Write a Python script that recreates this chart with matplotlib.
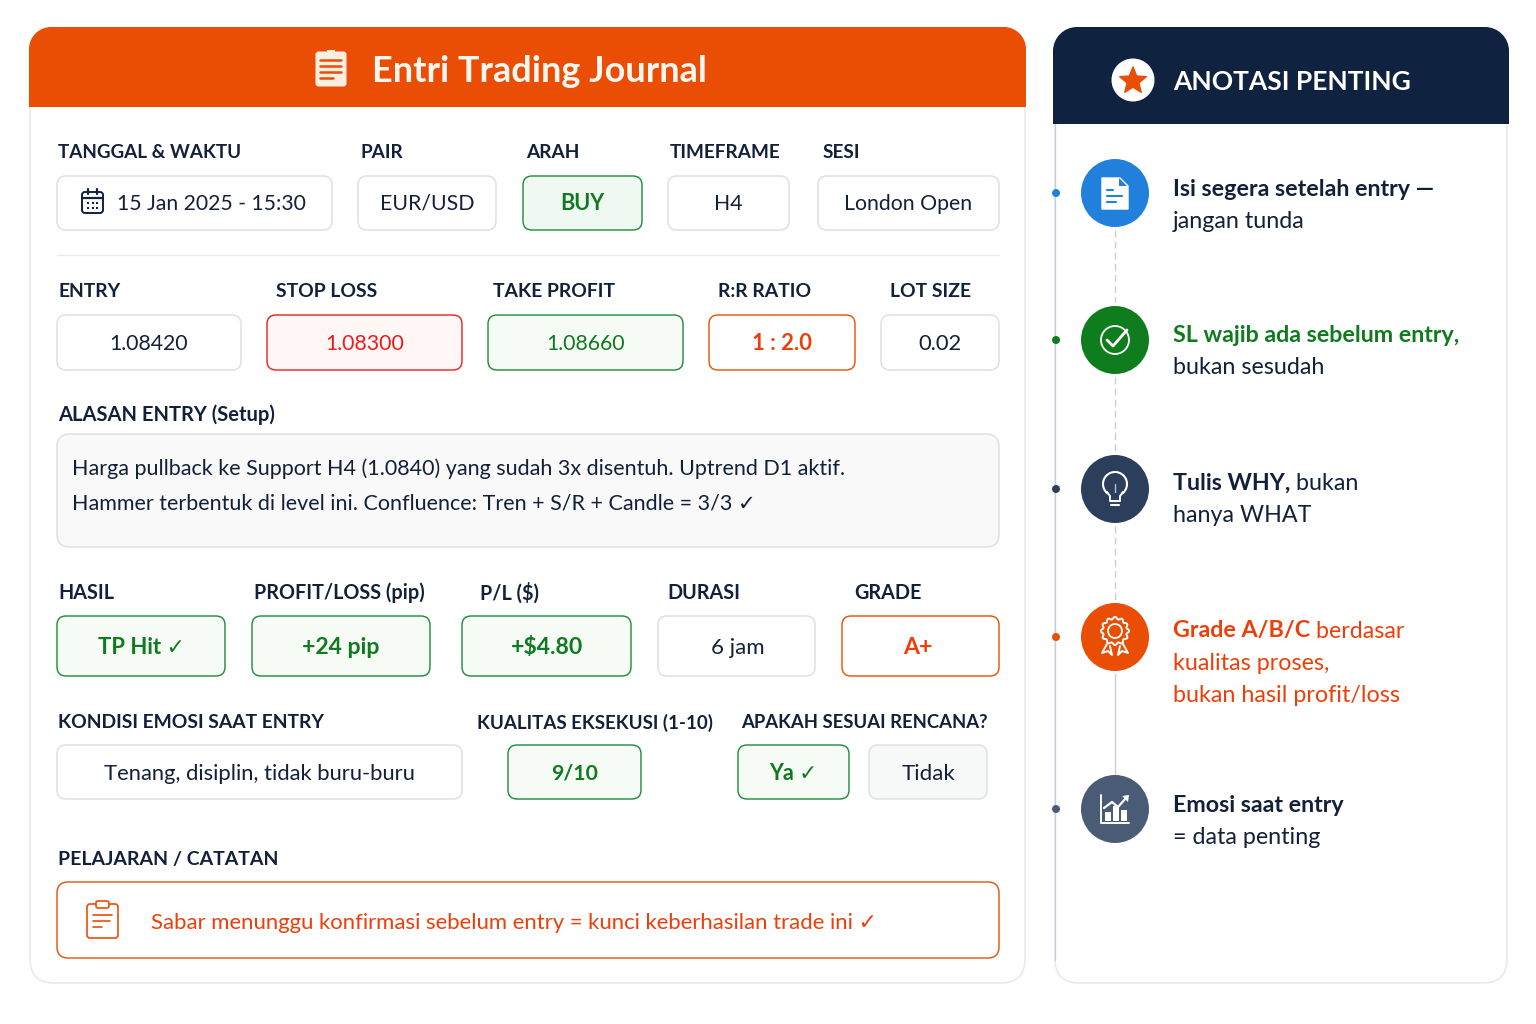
"""Trading journal entry card with an annotation sidebar, drawn in pixel coordinates."""
import matplotlib
matplotlib.use("Agg")
import matplotlib.pyplot as plt
from matplotlib.patches import Circle, FancyBboxPatch, PathPatch, Polygon, Rectangle
from matplotlib.path import Path
import numpy as np

plt.rcParams["font.family"] = ["Lato", "DejaVu Sans"]

ORANGE = "#e94e04"
ORANGE_TXT = "#ee3f0a"
NAVY = "#0f2240"
INK = "#12203a"
GREEN = "#0f7a1e"
GREEN_EDGE = "#1c8a3a"
GREEN_BG = "#f6fbf6"
RED = "#ee1c1c"
GREY_EDGE = "#dfe1e5"

TITLE = "Entri Trading Journal"
SIDE_TITLE = "ANOTASI PENTING"

ROW1_LABELS = ["TANGGAL & WAKTU", "PAIR", "ARAH", "TIMEFRAME", "SESI"]
ROW1_VALUES = ["15 Jan 2025 - 15:30", "EUR/USD", "BUY", "H4", "London Open"]
ROW2_LABELS = ["ENTRY", "STOP LOSS", "TAKE PROFIT", "R:R RATIO", "LOT SIZE"]
ROW2_VALUES = ["1.08420", "1.08300", "1.08660", "1 : 2.0", "0.02"]
SETUP_LABEL = "ALASAN ENTRY (Setup)"
SETUP_LINES = ["Harga pullback ke Support H4 (1.0840) yang sudah 3x disentuh. Uptrend D1 aktif.",
               "Hammer terbentuk di level ini. Confluence: Tren + S/R + Candle = 3/3 ✓"]
ROW3_LABELS = ["HASIL", "PROFIT/LOSS (pip)", "P/L ($)", "DURASI", "GRADE"]
ROW3_VALUES = ["TP Hit ✓", "+24 pip", "+$4.80", "6 jam", "A+"]
ROW4_LABELS = ["KONDISI EMOSI SAAT ENTRY", "KUALITAS EKSEKUSI (1-10)", "APAKAH SESUAI RENCANA?"]
ROW4_VALUES = ["Tenang, disiplin, tidak buru-buru", "9/10", "Ya ✓", "Tidak"]
NOTE_LABEL = "PELAJARAN / CATATAN"
NOTE_TEXT = "Sabar menunggu konfirmasi sebelum entry = kunci keberhasilan trade ini ✓"

NOTES = [
    [[("Isi segera setelah entry —", True, INK)], [("jangan tunda", False, INK)]],
    [[("SL wajib ada sebelum entry,", True, GREEN)], [("bukan sesudah", False, INK)]],
    [[("Tulis WHY,", True, INK), (" bukan", False, INK)], [("hanya WHAT", False, INK)]],
    [[("Grade A/B/C", True, ORANGE_TXT), (" berdasar", False, ORANGE_TXT)],
     [("kualitas proses,", False, ORANGE_TXT)], [("bukan hasil profit/loss", False, ORANGE_TXT)]],
    [[("Emosi saat entry", True, INK)], [("= data penting", False, INK)]],
]
NOTE_COLORS = ["#2180dc", "#0f7d1e", "#2b3f5c", ORANGE, "#4a5c75"]

fig = plt.figure(figsize=(15.36, 10.24), dpi=100)
ax = fig.add_axes([0, 0, 1, 1])
ax.set_xlim(0, 1536)
ax.set_ylim(1024, 0)
ax.axis("off")


def px(size):
    return size * 0.72


def box(x0, y0, x1, y1, edge=GREY_EDGE, face="white", r=9, lw=None, z=2):
    if lw is None:
        lw = 1.15 if edge == GREY_EDGE else 1.0
    p = FancyBboxPatch((x0 + r, y0 + r), x1 - x0 - 2 * r, y1 - y0 - 2 * r,
                       boxstyle=f"round,pad={r},rounding_size={r}", ec=edge, fc=face, lw=lw, zorder=z)
    ax.add_patch(p)
    return p


def top_round(x0, y0, x1, y1, r, color, z=3):
    k = 0.55 * r
    verts = [(x0, y1), (x0, y0 + r), (x0, y0 + r - k), (x0 + r - k, y0), (x0 + r, y0),
             (x1 - r, y0), (x1 - r + k, y0), (x1, y0 + r - k), (x1, y0 + r), (x1, y1), (x0, y1)]
    codes = [Path.MOVETO, Path.LINETO, Path.CURVE4, Path.CURVE4, Path.CURVE4,
             Path.LINETO, Path.CURVE4, Path.CURVE4, Path.CURVE4, Path.LINETO, Path.CLOSEPOLY]
    ax.add_patch(PathPatch(Path(verts, codes), fc=color, ec="none", zorder=z))


def txt(x, y, s, size=21.3, color=INK, weight="normal", ha="center"):
    return ax.text(x, y - 1, s, fontsize=px(size), color=color, fontweight=weight, ha=ha, va="center_baseline", zorder=6)


def labels(names, xs, y, sizes):
    for n, x, sz in zip(names, xs, sizes):
        txt(x, y, n, size=sz, weight="bold", ha="left")


def line(xs, ys, color="white", lw=1.6, z=7, **kw):
    ax.plot(xs, ys, color=color, lw=lw, zorder=z, solid_capstyle="round", **kw)


# ---- main card ----
box(30, 40, 1025, 983, edge="#e6e8ea", r=24, lw=1.1, z=1)
top_round(29, 27, 1026, 107, 22, ORANGE)
txt(372, 70, TITLE, size=36, color="#fff6f0", weight="bold", ha="left")
ax.add_patch(FancyBboxPatch((317, 53), 28, 32, boxstyle="round,pad=1.5,rounding_size=3", fc="#fdeee2", ec="none", zorder=6))
ax.add_patch(Rectangle((327, 50), 8, 5, fc="#fdeee2", ec="none", zorder=6))
for yy, xe in zip([60, 66, 72, 78], [341, 341, 341, 333]):
    line([320, xe], [yy, yy], color=ORANGE, lw=1.8)

# ---- row 1 ----
labels(ROW1_LABELS, [58, 360, 526, 670, 823], 152, [18.9, 19, 19, 19, 19])
r1 = [(57, 332), (358, 496), (523, 642), (668, 789), (818, 999)]
for i, ((a, b), v) in enumerate(zip(r1, ROW1_VALUES)):
    if i == 2:
        box(a, 176, b, 230, edge=GREEN_EDGE, face="#f0f9f1")
        txt((a + b) / 2, 203, v, size=21.6, color=GREEN, weight="bold")
    elif i == 0:
        box(a, 176, b, 230)
        txt(117, 203, v, ha="left", size=21.2)
    else:
        box(a, 176, b, 230)
        txt((a + b) / 2, 203, v, size=21.3)
# calendar icon
box(82, 192, 103, 213, edge=NAVY, r=3, lw=1.4, z=6)
line([82, 103], [198, 198], color=NAVY)
line([88, 88], [189, 194], color=NAVY)
line([97, 97], [189, 194], color=NAVY)
for cx in (88, 92.5, 97):
    for cy in (202.5, 207.5):
        ax.add_patch(Rectangle((cx - 1, cy - 1), 2, 2, fc=NAVY, ec="none", zorder=7))
line([57, 999], [255, 255], color="#e8eaec", lw=1.0, z=2)

# ---- row 2 ----
labels(ROW2_LABELS, [58, 276, 493, 718, 890], 291, [19.4] * 5)
r2 = [(57, 241), (267, 462), (488, 683), (709, 855), (881, 999)]
r2_style = [(GREY_EDGE, "white", INK, "normal", 21.3), (RED, "#fff6f6", RED, "normal", 21.3),
            (GREEN_EDGE, GREEN_BG, GREEN, "normal", 21.3), (ORANGE, "white", ORANGE_TXT, "bold", 22),
            (GREY_EDGE, "white", INK, "normal", 22)]
for (a, b), v, (e, f, c, w, sz) in zip(r2, ROW2_VALUES, r2_style):
    box(a, 315, b, 370, edge=e, face=f)
    txt((a + b) / 2, 343, v, color=c, weight=w, size=sz)

# ---- setup ----
txt(58, 414, SETUP_LABEL, size=20.2, weight="bold", ha="left")
box(57, 434, 999, 547, face="#f9f9f9", r=13)
txt(72, 468, SETUP_LINES[0], size=21.5, ha="left")
txt(72, 502, SETUP_LINES[1], size=21.5, ha="left")

# ---- row 3 ----
labels(ROW3_LABELS, [58, 254, 480, 667, 854], 592, [19.8] * 5)
r3 = [(57, 225), (252, 430), (462, 631), (658, 815), (842, 999)]
r3_style = [(GREEN_EDGE, GREEN_BG, GREEN, "bold", 22.2), (GREEN_EDGE, GREEN_BG, GREEN, "bold", 23),
            (GREEN_EDGE, GREEN_BG, GREEN, "bold", 23), (GREY_EDGE, "white", INK, "normal", 22.3),
            (ORANGE, "white", ORANGE_TXT, "bold", 23)]
r3_cx = [141, 341, 546.5, 737.5, 918]
for (a, b), v, (e, f, c, w, sz), cx in zip(r3, ROW3_VALUES, r3_style, r3_cx):
    box(a, 616, b, 676, edge=e, face=f)
    txt(cx, 647, v, color=c, weight=w, size=sz)

# ---- row 4 ----
labels(ROW4_LABELS, [58, 477, 741], 722, [19.3, 18.75, 18.5])
r4 = [(57, 462), (508, 641), (738, 849), (869, 987)]
r4_style = [(GREY_EDGE, "white", INK, "normal", 22), (GREEN_EDGE, GREEN_BG, GREEN, "bold", 21.3),
            (GREEN_EDGE, GREEN_BG, GREEN, "bold", 21.6), (GREY_EDGE, "#f7f8f8", INK, "normal", 22.3)]
for (a, b), v, (e, f, c, w, sz) in zip(r4, ROW4_VALUES, r4_style):
    box(a, 745, b, 799, edge=e, face=f)
    txt((a + b) / 2, 773, v, color=c, weight=w, size=sz)

# ---- note ----
txt(58, 859, NOTE_LABEL, size=19.5, weight="bold", ha="left")
box(57, 882, 999, 958, edge=ORANGE, r=11)
txt(151, 922, NOTE_TEXT, size=22.15, color=ORANGE_TXT, ha="left")
box(87, 904, 118, 938, edge=ORANGE, r=3, lw=1.2, z=6)
box(96, 901, 109, 908, edge=ORANGE, r=2, lw=1.2, z=7)
for yy, xe in zip([915, 921, 927], [112, 110, 102]):
    line([93, xe], [yy, yy], color=ORANGE, lw=1.2)

# ---- sidebar ----
box(1055, 40, 1507, 983, edge="#e6e8ea", r=24, lw=1.1, z=1)
top_round(1053, 27, 1509, 124, 24, NAVY)
ax.add_patch(Circle((1133, 80), 21.5, fc="white", ec="none", zorder=6))
th = np.deg2rad(np.arange(0, 360, 36) - 90)
rad = np.where(np.arange(10) % 2 == 0, 14, 6.2)
ax.add_patch(Polygon(np.c_[1133 + rad * np.cos(th), 80 + 1 + rad * np.sin(th)], fc=ORANGE, ec=ORANGE,
                     lw=1, joinstyle="round", zorder=7))
txt(1173, 81, SIDE_TITLE, size=26.4, color="white", weight="bold", ha="left")

line([1055, 1055], [124, 960], color="#c9ced6", lw=1.0, z=2)
circle_y = [193, 340, 489, 637, 809]
line_h = 32.5
line([1115, 1115], [230, 302], color="#c9ced6", lw=1.0, z=2, ls=(0, (5, 3)))
line([1115, 1115], [377, 451], color="#c9ced6", lw=1.0, z=2, ls=(0, (5, 3)))
line([1115, 1115], [526, 600], color="#c9ced6", lw=1.0, z=2, ls=(0, (5, 3)))
line([1115, 1115], [674, 775], color="#c9ced6", lw=1.0, z=2)

fig.canvas.draw()
rend = fig.canvas.get_renderer()
inv = ax.transData.inverted()
text_top = [188, 334, 482, 630, 804]
for cy, col, note, ty in zip(circle_y, NOTE_COLORS, NOTES, text_top):
    ax.add_patch(Circle((1056, cy), 4, fc=col, ec="none", zorder=5))
    ax.add_patch(Circle((1115, cy), 34, fc=col, ec="none", zorder=5))
    for k, segs in enumerate(note):
        xpos = 1173
        for s, bold, c in segs:
            t = txt(xpos, ty + k * line_h, s, size=23.2, color=c, weight="bold" if bold else "normal", ha="left")
            bb = t.get_window_extent(rend)
            xpos = inv.transform((bb.x1, bb.y0))[0]

# sidebar icons
cy = circle_y[0]
ax.add_patch(Polygon([(1102, cy - 15), (1120, cy - 15), (1128, cy - 7), (1128, cy + 16), (1102, cy + 16)],
                     fc="white", ec="white", lw=1, joinstyle="round", zorder=7))
ax.add_patch(Polygon([(1119, cy - 15), (1127, cy - 7), (1119, cy - 7)], fc="#2180dc", ec="none", zorder=8))
for yy, xe in zip([-3, 3, 9], [1113, 1122, 1116]):
    line([1107, xe], [cy + yy, cy + yy], color="#2180dc", lw=1.5, z=8)

cy = circle_y[1]
ax.add_patch(Circle((1115, cy), 14, fc="none", ec="white", lw=1.3, zorder=7))
line([1107, 1113, 1127], [cy, cy + 6, cy - 10], lw=2.0)

cy = circle_y[2]
ax.add_patch(Circle((1115, cy - 5), 12, fc="none", ec="white", lw=1.5, zorder=7))
ax.add_patch(Polygon([(1107, cy + 4), (1110, cy + 10), (1120, cy + 10), (1123, cy + 4)],
                     fc=NOTE_COLORS[2], ec="none", zorder=7.5))
line([1107, 1110, 1110], [cy + 3, cy + 7, cy + 11], lw=1.4, z=8)
line([1123, 1120, 1120], [cy + 3, cy + 7, cy + 11], lw=1.4, z=8)
line([1110, 1120], [cy + 12, cy + 12], lw=1.5)
line([1111, 1119], [cy + 16, cy + 16], lw=1.5)
line([1115, 1115], [cy - 5, cy + 8], lw=1.0, color="#b8c2cf")

cy = circle_y[3]
th = np.linspace(0, 2 * np.pi, 80)
rr = 13 + 1.2 * np.cos(12 * th)
line(1115 + rr * np.cos(th), cy - 6 + rr * np.sin(th), lw=1.4)
ax.add_patch(Circle((1115, cy - 6), 7, fc="none", ec="white", lw=1.3, zorder=7))
line([1107, 1102, 1108, 1112, 1110], [cy + 7, cy + 16, cy + 14, cy + 18, cy + 9], lw=1.4)
line([1123, 1128, 1122, 1118, 1120], [cy + 7, cy + 16, cy + 14, cy + 18, cy + 9], lw=1.4)

cy = circle_y[4]
line([1101, 1101, 1129], [cy - 14, cy + 14, cy + 14], lw=1.4)
for bx, bh in zip([1105, 1113, 1121], [9, 15, 11]):
    ax.add_patch(Rectangle((bx, cy + 12 - bh), 6, bh, fc="white", ec="none", zorder=7))
line([1104, 1112, 1118, 1126], [cy - 1, cy - 7, cy - 2, cy - 11], lw=1.6)
ax.add_patch(Polygon([(1122, cy - 13), (1129, cy - 14), (1128, cy - 7)], fc="white", ec="none", zorder=7))

fig.savefig("out.png", dpi=100)
